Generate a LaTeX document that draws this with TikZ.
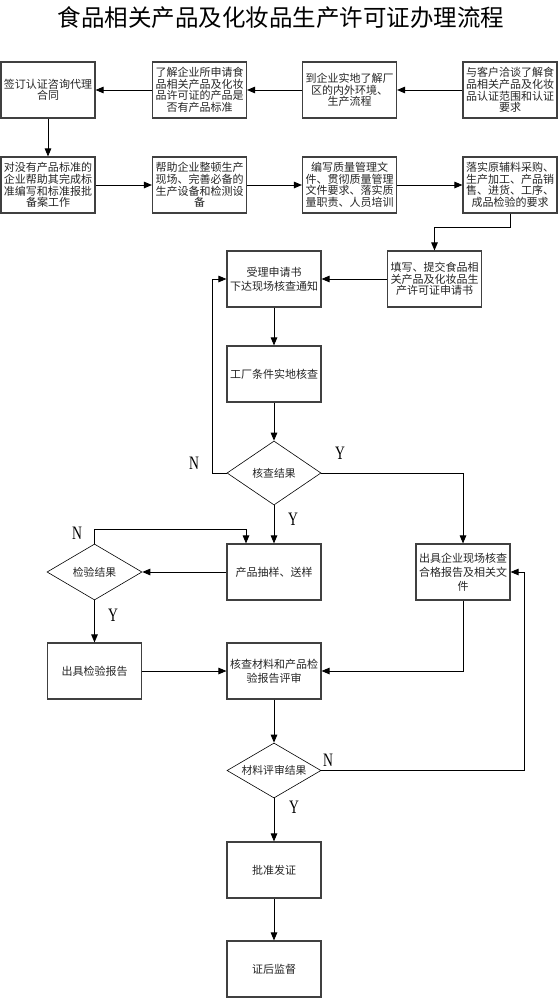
\documentclass[tikz,border=0pt]{standalone}
\usepackage{graphicx}
\usepackage{fontspec}
\setmainfont{Liberation Serif}
\newfontfamily\cjk{Noto Sans CJK SC}
\usetikzlibrary{arrows.meta,shapes.geometric}
\begin{document}
\begin{tikzpicture}[x=1pt,y=-1pt,
  box/.style={draw=black!75,line width=1.1pt,minimum width=94pt,minimum height=56pt,
    inner sep=1pt,align=center,text=black!85,font=\cjk\fontsize{11}{11.6}\selectfont},
  wbox/.style={box,font=\cjk\fontsize{11}{13.8}\selectfont},
  dia/.style={diamond,draw=black,line width=0.6pt,shape aspect=1.7,inner sep=0pt,
    minimum width=94pt,text=black!85,font=\cjk\fontsize{10.8}{11}\selectfont},
  conn/.style={draw=black,line width=0.9pt},
  arr/.style={conn,-{Triangle[length=8pt,width=6.5pt]}},
  lbl/.style={inner sep=0pt,font=\fontsize{19}{19}\selectfont},
  ttl/.style={inner sep=0pt,font=\cjk\fontsize{23.5}{24}\selectfont}
]
\useasboundingbox[fill=white] (0,0) rectangle (558,998);

\node[ttl] (title) at (281,18) {食品相关产品及化妆品生产许可证办理流程};

% row 1
\node[box] (A) at (48,90) {签订认证咨询代理\\合同};
\node[box] (B) at (199.5,90) {了解企业所申请食\\品相关产品及化妆\\品许可证的产品是\\否有产品标准};
\node[box] (C) at (349.5,90) {到企业实地了解厂\\区的内外环境、\\生产流程};
\node[box] (D) at (510,90) {与客户洽谈了解食\\品相关产品及化妆\\品认证范围和认证\\要求};

% row 2
\node[box] (A2) at (48,185) {对没有产品标准的\\企业帮助其完成标\\准编写和标准报批\\备案工作};
\node[box] (B2) at (199.5,185) {帮助企业整顿生产\\现场、完善必备的\\生产设备和检测设\\备};
\node[box] (C2) at (349.5,185) {编写质量管理文\\件、贯彻质量管理\\文件要求、落实质\\量职责、人员培训};
\node[box] (D2) at (510,185) {落实原辅料采购、\\生产加工、产品销\\售、进货、工序、\\成品检验的要求};

% main flow
\node[box] (E) at (434.5,279) {填写、提交食品相\\关产品及化妆品生\\产许可证申请书};
\node[wbox] (F) at (274,279) {受理申请书\\下达现场核查通知};
\node[box] (G) at (274,374) {工厂条件实地核查};
\node[dia,minimum height=64pt] (H) at (274,473) {核查结果};
\node[box] (J) at (274,572) {产品抽样、送样};
\node[dia,minimum width=95pt,minimum height=56pt] (I) at (94.5,572) {检验结果};
\node[wbox] (M) at (463,572) {出具企业现场核查\\合格报告及相关文\\件};
\node[box] (K) at (94.5,671) {出具检验报告};
\node[wbox] (L) at (274,671) {核查材料和产品检\\验报告评审};
\node[dia,minimum height=55pt] (R) at (274,770.5) {材料评审结果};
\node[box] (O) at (274,870) {批准发证};
\node[box] (P) at (274,969) {证后监督};

% labels
\node[lbl] (n1) at (194,463) {\scalebox{0.72}[1]{N}};
\node[lbl] (y1) at (340,453) {\scalebox{0.72}[1]{Y}};
\node[lbl] (y2) at (293,519) {\scalebox{0.72}[1]{Y}};
\node[lbl] (n2) at (77,533) {\scalebox{0.72}[1]{N}};
\node[lbl] (y3) at (113,615) {\scalebox{0.72}[1]{Y}};
\node[lbl] (n3) at (328,760) {\scalebox{0.72}[1]{N}};
\node[lbl] (y4) at (294,807) {\scalebox{0.72}[1]{Y}};

% connectors
\draw[arr] (D) -- (C);
\draw[arr] (C) -- (B);
\draw[arr] (B) -- (A);
\draw[arr] (A) -- (A2);
\draw[arr] (A2) -- (B2);
\draw[arr] (B2) -- (C2);
\draw[arr] (C2) -- (D2);
\draw[arr] (D2.south) -- ++(0,14) -| (E.north);
\draw[arr] (E) -- (F);
\draw[arr] (F) -- (G);
\draw[arr] (G) -- (H);
\draw[arr] (H.west) -- ++(-14,0) |- (F.west);
\draw[arr] (H.east) -| (M.north);
\draw[arr] (H.south) -- (J.north);
\draw[arr] (J.west) -- (I.east);
\draw[arr] (I.north) -- ++(0,-14) -| ([xshift=-28pt]J.north);
\draw[arr] (I.south) -- (K.north);
\draw[arr] (K) -- (L);
\draw[arr] (M.south) |- (L.east);
\draw[arr] (L) -- (R.north);
\draw[arr] (R.east) -- ++(203,0) |- (M.east);
\draw[arr] (R.south) -- (O.north);
\draw[arr] (O) -- (P);
\end{tikzpicture}
\end{document}
